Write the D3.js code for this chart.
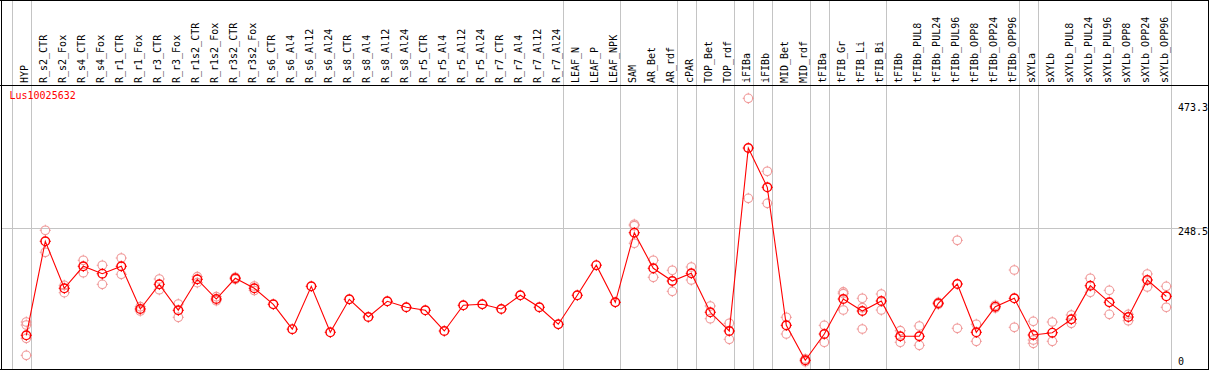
<!DOCTYPE html>
<html><head><meta charset="utf-8">
<script src="https://cdn.jsdelivr.net/npm/d3@7"></script>
<style>html,body{margin:0;padding:0;background:#fff;}svg{display:block;}</style>
</head><body>
<script>
const categories = ["HYP","R_s2_CTR","R_s2_Fox","R_s4_CTR","R_s4_Fox","R_r1_CTR","R_r1_Fox","R_r3_CTR","R_r3_Fox","R_r1s2_CTR","R_r1s2_Fox","R_r3s2_CTR","R_r3s2_Fox","R_s6_CTR","R_s6_Al4","R_s6_Al12","R_s6_Al24","R_s8_CTR","R_s8_Al4","R_s8_Al12","R_s8_Al24","R_r5_CTR","R_r5_Al4","R_r5_Al12","R_r5_Al24","R_r7_CTR","R_r7_Al4","R_r7_Al12","R_r7_Al24","LEAF_N","LEAF_P","LEAF_NPK","SAM","AR_Bet","AR_rdf","cPAR","TOP_Bet","TOP_rdf","iFIBa","iFIBb","MID_Bet","MID_rdf","tFIBa","tFIB_Gr","tFIB_Li","tFIB_Bi","tFIBb","tFIBb_PUL8","tFIBb_PUL24","tFIBb_PUL96","tFIBb_OPP8","tFIBb_OPP24","tFIBb_OPP96","sXYLa","sXYLb","sXYLb_PUL8","sXYLb_PUL24","sXYLb_PUL96","sXYLb_OPP8","sXYLb_OPP24","sXYLb_OPP96"];

const means = [54.0,224.8,139.4,179.4,165.9,179.4,101.8,146.6,99.4,155.7,119.9,157.6,139.4,110.3,65.1,143.0,59.4,119.4,87.2,115.8,104.9,99.4,61.8,108.5,110.3,101.8,126.7,104.9,74.0,126.7,181.4,113.9,240.4,175.7,152.6,166.6,95.8,61.8,394.3,322.9,72.1,8.5,56.3,119.9,98.1,116.3,52.2,52.2,112.1,147.2,59.4,105.9,121.2,54.5,58.7,83.0,144.1,113.9,87.2,154.5,124.8];

const replicates = [
  [78.1,72.7,48.5,17.6],[244.8,204.8],[144.8,131.4],[190.3,167.7],[181.2,146.6],[194.4,164.8],[105.9,98.1],[156.3,136.8],[110.8,86.7],[160.5,149.6],[124.1,116.8],[159.4,155.7],[143.6,135.4],
  [],[],[],[],[],[],[],[],[],[],[],[],[],[],[],[],[],[],[],
  [255.7,253.1,221.2],[190.3,159.4],[172.1,133.9],[178.1,154.5],[107.2,84.1],[75.8,46.7],[484.6,302.9],[352.0,293.8],[86.7,56.3],[6.0,11.0],[72.1,41.3],[132.7,129.6,99.9],[121.2,104.1,65.4],[129.0,99.9],
  [62.3,41.3],[70.9,35.8],[113.9,110.3],[226.6,66.7],[74.0,43.1],[108.5,103.6],[172.6,68.5],[79.4,45.4,39.4],[78.1,43.1],[90.9,75.8],[157.6,132.1],[135.7,92.1],[92.1,80.5],[165.4,141.7],[143.0,104.9]
];

const groupEnds = ["HYP","R_r7_Al24","LEAF_NPK","AR_rdf","cPAR","TOP_rdf","iFIBa","iFIBb","MID_rdf","tFIBa","tFIB_Bi","tFIBb_OPP96","sXYLa","sXYLb_OPP96"];
const yTicks = [0, 248.5, 473.3];
const yMax = 497;
const geneLabel = "Lus10025632";

const W = 1209, H = 370;
const svg = d3.select("body").append("svg").attr("width", W).attr("height", H);
const FONT = "'DejaVu Sans Mono', monospace";

const x = d3.scalePoint().domain(categories).range([26.3, 1166.3]);
const step = x.step();
const y = d3.scaleLinear().domain([0, yMax]).range([365, 91.5]);

// vertical gray separators
const sepX = [x(categories[0]) - step + 4.4].concat(groupEnds.map(c => x(c) + 4.4));
svg.selectAll("line.sep").data(sepX).enter().append("line")
  .attr("x1", d => Math.round(d) + 0.5).attr("x2", d => Math.round(d) + 0.5)
  .attr("y1", 0).attr("y2", H).attr("stroke", "#c4c4c4").attr("stroke-width", 1);

// horizontal mid gridline
svg.append("line").attr("x1", 1).attr("x2", 1208)
  .attr("y1", Math.round(y(248.5)) + 0.5).attr("y2", Math.round(y(248.5)) + 0.5)
  .attr("stroke", "#c4c4c4").attr("stroke-width", 1);

// frame
svg.append("line").attr("x1",0).attr("x2",W).attr("y1",0.5).attr("y2",0.5).attr("stroke","#000");
svg.append("line").attr("x1",0).attr("x2",W).attr("y1",85.5).attr("y2",85.5).attr("stroke","#000");
svg.append("line").attr("x1",0).attr("x2",W).attr("y1",369.5).attr("y2",369.5).attr("stroke","#000");
svg.append("line").attr("x1",1.5).attr("x2",1.5).attr("y1",0).attr("y2",H).attr("stroke","#000");
svg.append("line").attr("x1",1208.5).attr("x2",1208.5).attr("y1",0).attr("y2",H).attr("stroke","#000");

// header labels
svg.selectAll("text.cat").data(categories).enter().append("text")
  .attr("transform", d => `translate(${x(d) + 2},83) rotate(-90)`)
  .attr("font-family", FONT).attr("font-size", "10px").attr("fill", "#000")
  .text(d => d);

// y tick labels
svg.selectAll("text.yt").data(yTicks).enter().append("text")
  .attr("x", 1178).attr("y", d => Math.min(y(d) + 3.7, 362.3))
  .attr("dominant-baseline", "middle")
  .attr("font-family", FONT).attr("font-size", "10px").attr("fill", "#000")
  .text(d => d === 0 ? "0" : d.toFixed(1));

// gene label
svg.append("text").attr("x", 9.5).attr("y", 96).attr("dominant-baseline", "middle")
  .attr("font-family", FONT).attr("font-size", "10px").attr("fill", "#ff0000").text(geneLabel);

function marker(g, cx, cy, color, sw) {
  const r = 4.3;
  g.append("circle").attr("cx", cx).attr("cy", cy).attr("r", r)
    .attr("fill", "none").attr("stroke", color).attr("stroke-width", sw);
  [[0,-1],[0,1],[-1,0],[1,0]].forEach(([dx,dy]) => {
    g.append("line").attr("x1", cx + dx*(r-0.5)).attr("y1", cy + dy*(r-0.5))
      .attr("x2", cx + dx*(r+1.3)).attr("y2", cy + dy*(r+1.3))
      .attr("stroke", color).attr("stroke-width", 1);
  });
}

// replicates
const repG = svg.append("g");
categories.forEach((c, i) => {
  replicates[i].forEach(v => marker(repG, x(c), y(v), "#f09a9a", 1.1));
});

// mean line
const line = d3.line().x((d, i) => x(categories[i])).y(d => y(d));
svg.append("path").datum(means).attr("d", line)
  .attr("fill", "none").attr("stroke", "#ff0000").attr("stroke-width", 1.1);

// mean markers
const mG = svg.append("g");
categories.forEach((c, i) => marker(mG, x(c), y(means[i]), "#ff0000", 1.4));
</script>
</body></html>
